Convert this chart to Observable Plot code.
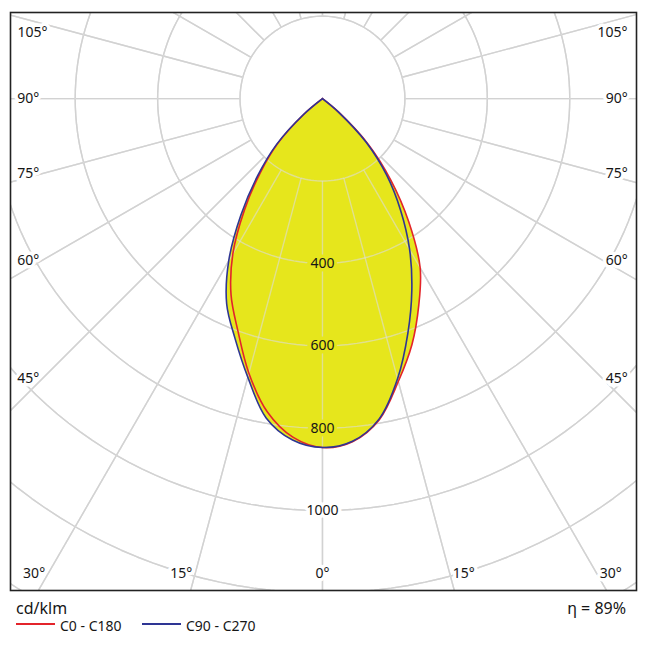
<!DOCTYPE html>
<html><head><meta charset="utf-8">
<script src="https://cdn.jsdelivr.net/npm/d3@7"></script>
<script src="https://cdn.jsdelivr.net/npm/@observablehq/plot@0.6"></script>
<style>
body{margin:0;background:#fff;font-family:"Noto Sans",sans-serif;color:#161616;}
#wrap{position:relative;width:650px;height:650px;overflow:hidden;}
#chart{position:absolute;left:0;top:0;}
.lg{position:absolute;white-space:nowrap;}
.sw{position:absolute;height:0;border-top:2px solid;}
</style></head><body>
<div id="wrap"><div id="chart"></div></div>
<script>
// gamma angles (degrees from nadir)
const angles = [0,5,10,15,20,25,30,35,40,45,50,55,60,65,70,75,80,85,90];
// luminous intensity, cd/klm
const c0   = [847,836,792,711,635,553,474,365,258,158,52,0,0,0,0,0,0,0,0]; // right, red
const c180 = [847,825,772,690,600,525,435,330,235,152,58,0,0,0,0,0,0,0,0]; // left, red
const c90  = [847,835,790,704,606,513,423,330,242,150,50,0,0,0,0,0,0,0,0]; // right, blue
const c270 = [847,832,787,700,620,550,455,345,245,158,60,0,0,0,0,0,0,0,0]; // left, blue
const rings = [200,400,600,800,1000,1200,1400];
const ringLabels = [400,600,800,1000];
const angleLabels = [0,15,30,45,60,75,90,105];
const seriesNames = ["C0 - C180","C90 - C270"];
const seriesColors = ["#e3242b","#2e3594"];
const unit = "cd/klm";
const eta = "\u03b7 = 89%";

const rad = d => d*Math.PI/180;
const fillColor = "#e6e61c";

function curve(right, left){
  const pts = [];
  for (let i = angles.length-1; i >= 0; i--) pts.push({a: angles[i], v: left[i], s: -1});
  for (let i = 1; i < angles.length; i++) pts.push({a: angles[i], v: right[i], s: 1});
  // keep a single apex point at each end
  const first = pts.findIndex(p => p.v > 0), last = pts.length - 1 - [...pts].reverse().findIndex(p => p.v > 0);
  return pts.slice(first - 1, last + 2);
}
const red = curve(c0, c180);
const blue = curve(c90, c270);
const px = p => p.s*p.v*Math.sin(rad(p.a));
const py = p => -p.v*Math.cos(rad(p.a));

const ringPts = rings.flatMap(r => d3.range(0, 361, 2).map(a => ({r, a})));
const spokes = d3.range(0, 360, 15);

// label anchors: ray meets the inner label boundary
const SIDE = 680, BOTTOM = -1153, TOPCLAMP = 161, CLAMP_INSET = 20;
const lab = [];
for (const a of angleLabels) for (const s of (a === 0 ? [0] : [-1, 1])) {
  const sx = Math.sin(rad(a)), cy = Math.cos(rad(a));
  const tSide = sx > 1e-9 ? SIDE/sx : Infinity;
  const tBot = cy > 1e-9 ? -BOTTOM/cy : Infinity;
  let x, y, anchor;
  if (tSide < tBot) {
    y = -tSide*cy; x = s*SIDE;
    if (y > TOPCLAMP) { y = TOPCLAMP; x = s*(SIDE - CLAMP_INSET); }
    anchor = s < 0 ? "end" : "start";
  } else { x = s*tBot*sx; y = BOTTOM; anchor = s < 0 ? "end" : (s > 0 ? "start" : "middle"); }
  lab.push({x, y, anchor, s, text: a + "\u00b0"});
}

const gridMarks = (stroke, opacity) => [
  Plot.line(ringPts, {x: d => d.r*Math.sin(rad(d.a)), y: d => -d.r*Math.cos(rad(d.a)), z: "r",
    stroke, strokeOpacity: opacity, strokeWidth: 1.4, clip: true}),
  Plot.link(spokes, {x1: a => rings[0]*Math.sin(rad(a)), y1: a => -rings[0]*Math.cos(rad(a)),
    x2: a => 2000*Math.sin(rad(a)), y2: a => -2000*Math.cos(rad(a)),
    stroke, strokeOpacity: opacity, strokeWidth: 1.4, clip: true})
];

const chart = Plot.plot({
  width: 650, height: 598,
  marginTop: 12, marginLeft: 10, marginRight: 14, marginBottom: 8,
  x: {domain: [-757, 762], axis: null},
  y: {domain: [-1194, 209], axis: null},
  style: {fontFamily: "'Noto Sans', sans-serif", fontSize: "14px", color: "#161616", background: "white"},
  marks: [
    ...gridMarks("#c4c4c4", 1),
    Plot.line(red, {x: px, y: py, fill: fillColor, stroke: "none", curve: "catmull-rom"}),
    Plot.line(blue, {x: px, y: py, fill: fillColor, stroke: "none", curve: "catmull-rom"}),
    ...gridMarks("#dcdcdc", 0.6),
    Plot.line(red, {x: px, y: py, stroke: seriesColors[0], strokeWidth: 1.6, curve: "catmull-rom"}),
    Plot.line(blue, {x: px, y: py, stroke: seriesColors[1], strokeWidth: 1.6, curve: "catmull-rom"}),
    Plot.text(ringLabels, {x: 0, y: v => -v, text: v => String(v), fill: "#161616",
      stroke: v => v < c0[0] ? fillColor : "white", strokeWidth: 7}),
    Plot.text(lab.filter(d => d.anchor === "end"), {x: "x", y: "y", text: "text", textAnchor: "end", dx: -3,
      fill: "#161616", stroke: "white", strokeWidth: 7}),
    Plot.text(lab.filter(d => d.anchor === "start"), {x: "x", y: "y", text: "text", textAnchor: "start", dx: 3,
      fill: "#161616", stroke: "white", strokeWidth: 7}),
    Plot.text(lab.filter(d => d.anchor === "middle"), {x: "x", y: "y", text: "text",
      fill: "#161616", stroke: "white", strokeWidth: 7}),
    Plot.frame({stroke: "#222", strokeWidth: 1.6})
  ]
});
const wrap = document.getElementById("wrap");
document.getElementById("chart").appendChild(chart);

function addDiv(cls, style, text){
  const d = document.createElement("div");
  d.className = cls; d.setAttribute("style", style);
  if (text) d.textContent = text;
  wrap.appendChild(d);
}
addDiv("lg", "left:16px;top:597px;font-size:16px;line-height:22px;", unit);
addDiv("lg", "right:24px;top:597px;font-size:16px;line-height:22px;", eta);
const legX = [[16, 60], [142, 186]];
seriesNames.forEach((n, i) => {
  addDiv("sw", `left:${legX[i][0]}px;top:623px;width:39px;border-color:${seriesColors[i]};`);
  addDiv("lg", `left:${legX[i][1]}px;top:616px;font-size:14px;line-height:20px;`, n);
});
</script>
</body></html>
